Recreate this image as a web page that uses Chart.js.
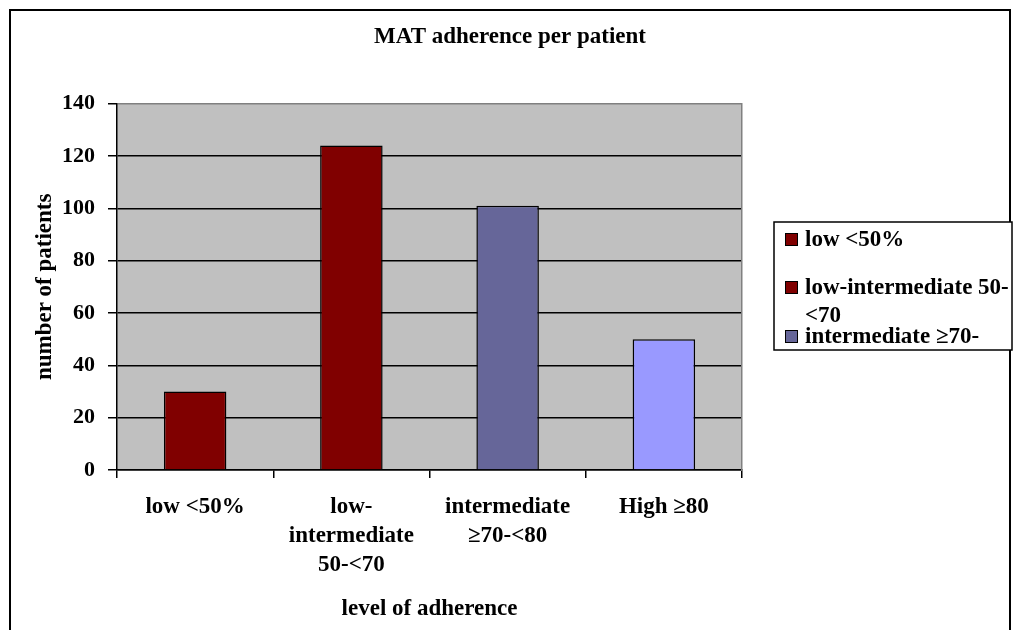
<!DOCTYPE html>
<html>
<head>
<meta charset="utf-8">
<script src="https://cdn.jsdelivr.net/npm/chart.js@4.4.1/dist/chart.umd.min.js"></script>
<style>
  body { margin: 0; background: #fff; }
  canvas { display: block; }
</style>
</head>
<body>
<canvas id="myChart" width="1020" height="630"></canvas>
<script>
// chart data
const categories = [
  ['low <50%'],
  ['low-', 'intermediate', '50-<70'],
  ['intermediate', '\u226570-<80'],
  ['High \u226580']
];
const patients = [30, 124, 101, 50];
const barColors = ['#800000', '#800000', '#666699', '#9999FF'];
const legendLabels = [
  ['low <50%'],
  ['low-intermediate 50-', '<70'],
  ['intermediate \u226570-', '<80'],
  ['High \u226580']
];
const yTicks = [0, 20, 40, 60, 80, 100, 120, 140];

const serif = 'Liberation Serif';

// gray plot background + outer frame + clipped legend box
const chartDecor = {
  id: 'chartDecor',
  beforeDraw(chart) {
    const c = chart.ctx, a = chart.chartArea;
    c.save();
    c.fillStyle = '#fff';
    c.fillRect(0, 0, chart.width, chart.height);
    c.fillStyle = '#C0C0C0';
    c.fillRect(a.left, a.top, a.right - a.left, a.bottom - a.top);
    c.restore();
  },
  afterDraw(chart) {
    const c = chart.ctx;
    c.save();
    c.strokeStyle = '#000';
    c.lineWidth = 2;
    c.strokeRect(10, 10, 1000, 700);

    // legend box
    const bx = 774, by = 222, bw = 238, bh = 128;
    c.fillStyle = '#fff';
    c.fillRect(bx, by, bw, bh);
    c.lineWidth = 1.5;
    c.strokeRect(bx, by, bw, bh);
    c.beginPath();
    c.rect(bx + 1, by + 1, bw - 2, bh - 2);
    c.clip();
    const rows = [239, 287, 336, 384];
    c.font = 'bold 23px "' + serif + '"';
    c.textBaseline = 'middle';
    legendLabels.forEach((lines, i) => {
      const y = rows[i];
      c.fillStyle = barColors[i];
      c.fillRect(785, y - 6, 13, 13);
      c.lineWidth = 1;
      c.strokeStyle = '#000';
      c.strokeRect(785.5, y - 5.5, 12, 12);
      c.fillStyle = '#000';
      lines.forEach((t, j) => c.fillText(t, 805, y + 1 + j * 28));
    });
    c.restore();
  }
};

var ctx = document.getElementById('myChart').getContext('2d');

var myChart = new Chart(ctx, {
  type: 'bar',
  data: {
    labels: categories,
    datasets: [{
      data: patients,
      backgroundColor: barColors,
      borderColor: '#000',
      borderWidth: 1.5,
      barPercentage: 0.4,
      categoryPercentage: 1
    }]
  },
  options: {
    responsive: false,
    animation: false,
    layout: { padding: 0 },
    plugins: {
      legend: { display: false },
      tooltip: { enabled: false },
      title: {
        display: true,
        text: 'MAT adherence per patient',
        color: '#000',
        font: { family: serif, size: 23, weight: 'bold' },
        padding: { top: 23, bottom: 53 }
      }
    },
    scales: {
      x: {
        grid: {
          drawOnChartArea: false,
          tickColor: '#000',
          tickLength: 8,
          lineWidth: 1.5
        },
        border: { color: '#000', width: 1.5 },
        ticks: {
          color: '#000',
          padding: 15,
          maxRotation: 0,
          font: { family: serif, size: 23, weight: 'bold', lineHeight: 1.26 }
        },
        title: {
          display: true,
          text: 'level of adherence',
          color: '#000',
          font: { family: serif, size: 23, weight: 'bold' },
          padding: { top: 0, bottom: 7 }
        },
        afterFit(scale) { scale.height = 160; }
      },
      y: {
        min: 0,
        max: 140,
        afterBuildTicks(scale) { scale.ticks = yTicks.map(v => ({ value: v })); },
        grid: {
          color: ctx => ctx.tick && ctx.tick.value === 140 ? '#808080' : '#000',
          tickColor: '#000',
          tickLength: 9,
          lineWidth: 1.5
        },
        border: { color: '#000', width: 1.5 },
        ticks: {
          color: '#000',
          padding: 13,
          font: { family: serif, size: 22, weight: 'bold' }
        },
        title: {
          display: true,
          text: 'number of patients',
          color: '#000',
          font: { family: serif, size: 23, weight: 'bold' },
          padding: { top: 31, bottom: 0 }
        },
        afterFit(scale) { scale.width = 117; }
      },
      y2: {
        position: 'right',
        min: 0,
        max: 140,
        grid: { drawOnChartArea: false, drawTicks: false },
        border: { color: '#808080', width: 1.5 },
        ticks: { display: false },
        afterFit(scale) { scale.width = 278; }
      }
    }
  },
  plugins: [chartDecor]
});
</script>
</body>
</html>
